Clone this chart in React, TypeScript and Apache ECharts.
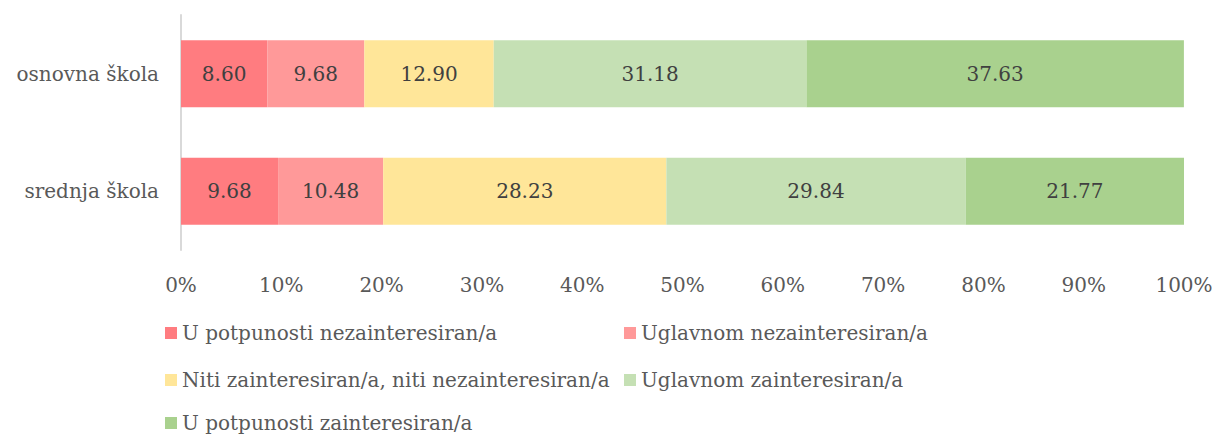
import React, { useEffect, useRef } from "react";
import * as echarts from "echarts";

const categories = ["osnovna škola", "srednja škola"];
const seriesNames = [
  "U potpunosti nezainteresiran/a",
  "Uglavnom nezainteresiran/a",
  "Niti zainteresiran/a, niti nezainteresiran/a",
  "Uglavnom zainteresiran/a",
  "U potpunosti zainteresiran/a",
];
const potpunoNe = [8.6, 9.68];
const uglavnomNe = [9.68, 10.48];
const niti = [12.9, 28.23];
const uglavnomDa = [31.18, 29.84];
const potpunoDa = [37.63, 21.77];
const colors = ["#FF7C80", "#FF9999", "#FFE699", "#C5E0B4", "#A9D18E"];
const xTicks = [0, 10, 20, 30, 40, 50, 60, 70, 80, 90, 100];

const FONT = "DejaVu Serif";

export default function App() {
  const ref = useRef<HTMLDivElement>(null);
  useEffect(() => {
    if (!ref.current) return;
    const chart = echarts.init(ref.current, undefined, { renderer: "svg" });
    const values = [potpunoNe, uglavnomNe, niti, uglavnomDa, potpunoDa];
    const legendPos = [
      { left: 160, top: 318 },
      { left: 619, top: 318 },
      { left: 160, top: 365 },
      { left: 619, top: 365 },
      { left: 160, top: 408 },
    ];
    chart.setOption({
      animation: false,
      textStyle: { fontFamily: FONT },
      grid: { left: 181, right: 35, top: 15, bottom: 185, containLabel: false },
      legend: seriesNames.map((n, i) => ({
        data: [n],
        left: legendPos[i].left,
        top: legendPos[i].top,
        itemWidth: 12,
        itemHeight: 12,
        itemGap: 0,
        icon: "rect",
        textStyle: { fontFamily: FONT, fontSize: 20, color: "#595959" },
        selectedMode: false,
      })),
      xAxis: {
        type: "value",
        min: 0,
        max: 100,
        interval: 10,
        axisLine: { show: false },
        axisTick: { show: false },
        splitLine: { show: false },
        axisLabel: {
          formatter: (v: number) => (xTicks.includes(v) ? v + "%" : ""),
          fontFamily: FONT,
          fontSize: 20,
          color: "#595959",
          margin: 25,
        },
      },
      yAxis: {
        type: "category",
        data: categories,
        inverse: true,
        axisLine: { show: true, lineStyle: { color: "#D9D9D9", width: 2 } },
        axisTick: { show: false },
        axisLabel: { fontFamily: FONT, fontSize: 20, color: "#595959", margin: 22 },
      },
      series: seriesNames.map((n, i) => ({
        name: n,
        type: "bar",
        stack: "total",
        barWidth: "57%",
        data: values[i],
        itemStyle: { color: colors[i] },
        label: {
          show: true,
          position: "inside",
          formatter: (p: any) => Number(p.value).toFixed(2),
          fontFamily: FONT,
          fontSize: 20,
          color: "#404040",
        },
      })),
    });
    return () => chart.dispose();
  }, []);
  return (
    <div
      ref={ref}
      style={{ position: "absolute", left: 0, top: 0, width: 1219, height: 435 }}
    />
  );
}
